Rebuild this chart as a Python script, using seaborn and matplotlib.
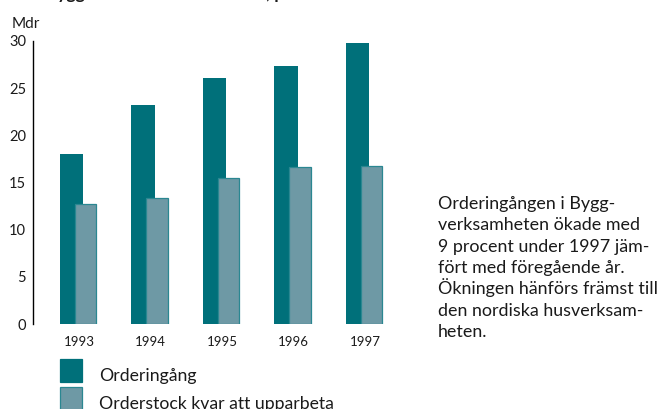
import matplotlib
matplotlib.use("Agg")
import matplotlib.pyplot as plt
from matplotlib.patches import Rectangle
import seaborn as sns
import pandas as pd

# Data (billion SEK)
years = ["1993", "1994", "1995", "1996", "1997"]
order_intake = [18.0, 23.2, 26.1, 27.3, 29.8]
order_backlog = [12.7, 13.4, 15.5, 16.6, 16.8]
y_ticks = [0, 5, 10, 15, 20, 25, 30]

series_names = ["Orderingång", "Orderstock kvar att upparbeta"]
note_lines = [
    "Orderingången i Bygg-",
    "verksamheten ökade med",
    "9 procent under 1997 jäm-",
    "fört med föregående år.",
    "Ökningen hänförs främst till",
    "den nordiska husverksam-",
    "heten.",
]

DARK = "#00707a"
LIGHT = "#6e99a5"
EDGE = "#2a8791"
INK = "#1a1a1a"

sns.set_style("white")
plt.rcParams["font.family"] = ["Lato", "DejaVu Sans"]

W, H = 663, 409
fig = plt.figure(figsize=(W / 100, H / 100), dpi=100)
ax = fig.add_axes([33 / W, 85 / H, (410 - 33) / W, 283 / H])

df = pd.DataFrame({"year": years, "intake": order_intake, "backlog": order_backlog})

# Order intake (behind), then backlog overlapping to the right
sns.barplot(data=df, x="year", y="intake", color=DARK, saturation=1,
            width=0.33, errorbar=None, ax=ax, linewidth=0)
n_first = len(ax.patches)
sns.barplot(data=df, x="year", y="backlog", color=LIGHT, saturation=1,
            width=0.30, errorbar=None, ax=ax, edgecolor=EDGE, linewidth=0.9)

for i, p in enumerate(ax.patches):
    shift = -0.105 if i < n_first else 0.091
    p.set_x(p.get_x() + shift)

ax.set_xlim(-0.643, 4.63)
ax.set_ylim(0, 30)
ax.set_yticks(y_ticks)
ax.set_xlabel("")
ax.set_ylabel("")

for s in ["top", "right", "bottom"]:
    ax.spines[s].set_visible(False)
ax.spines["left"].set_color("black")
ax.spines["left"].set_linewidth(1.0)

ax.tick_params(axis="y", direction="in", length=9, width=1, color="#333333",
               labelsize=10.5, pad=5, labelcolor=INK)
ax.tick_params(axis="x", length=0, labelsize=9.5, pad=9, labelcolor=INK)

# Unit label
fig.text(12 / W, 1 - 28 / H, "Mdr", fontsize=11, va="baseline", ha="left",
         color=INK)

# Heading, largely above the visible area
fig.text(46 / W, 1 + 1 / H, "Bygg – order och orderstock, per år",
         fontsize=12.5, fontweight="bold", va="baseline", ha="left",
         color=INK)

# Legend drawn as figure patches
sq = 22.4
for k, (name, col) in enumerate(zip(series_names, [DARK, LIGHT])):
    top = 359.3 + k * 28
    fig.patches.append(Rectangle((59.5 / W, 1 - (top + sq) / H), sq / W, sq / H,
                                 transform=fig.transFigure, facecolor=col,
                                 edgecolor=EDGE if k else DARK, linewidth=0.9))
    fig.text(99 / W, 1 - (381.5 + k * 27) / H, name, fontsize=12.7,
             va="baseline", ha="left", color=INK)

# Explanatory note on the right
for j, line in enumerate(note_lines):
    fig.text(438 / W, 1 - (209 + j * 21.3) / H, line, fontsize=12.9,
             va="baseline", ha="left", color=INK)

fig.savefig("out.png", dpi=100)
